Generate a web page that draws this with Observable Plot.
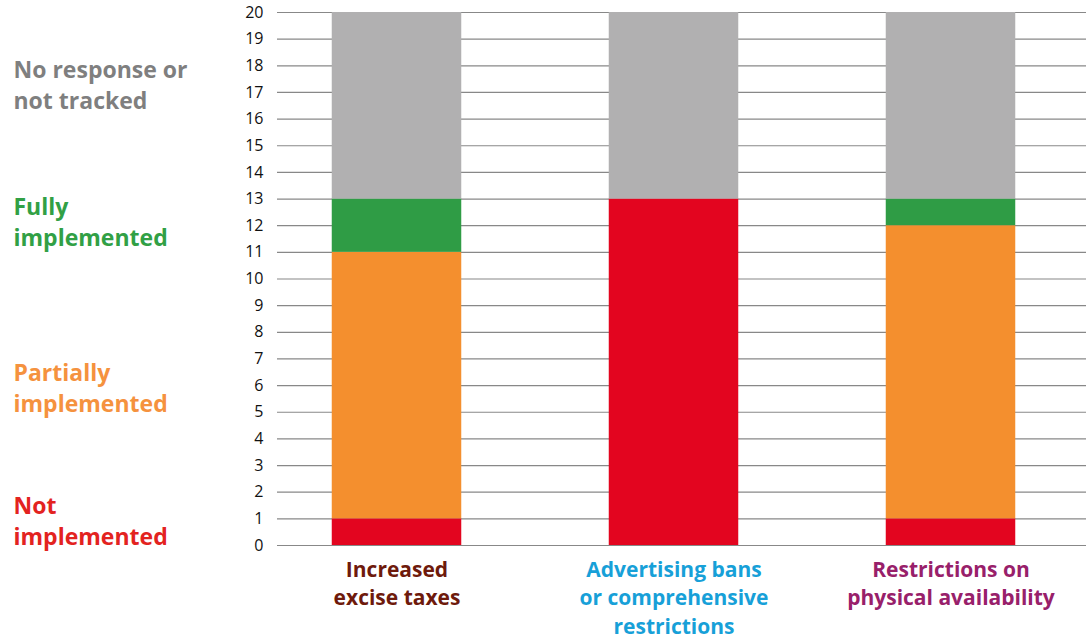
<!DOCTYPE html>
<html>
<head>
<meta charset="utf-8">
<script src="https://cdn.jsdelivr.net/npm/d3@7"></script>
<script src="https://cdn.jsdelivr.net/npm/@observablehq/plot@0.6"></script>
<style>
  html, body { margin: 0; padding: 0; background: #fff; }
  #chart svg { display: block; }
</style>
</head>
<body>
<div id="chart"></div>
<script>
const categories = ["Increased excise taxes", "Advertising bans or comprehensive restrictions", "Restrictions on physical availability"];
const categoryLabels = ["Increased\nexcise taxes", "Advertising bans\nor comprehensive\nrestrictions", "Restrictions on\nphysical availability"];
const categoryColors = ["#6e1a0c", "#17a0d8", "#98206a"];

const statuses = ["Not implemented", "Partially implemented", "Fully implemented", "No response or not tracked"];
const statusLabels = ["Not\nimplemented", "Partially\nimplemented", "Fully\nimplemented", "No response or\nnot tracked"];
const statusColors = ["#e3051f", "#f48f2e", "#2f9c45", "#b1b0b1"];
const statusTextColors = ["#e3231f", "#f5923e", "#31a045", "#7f7f7f"];
const statusLabelY = [0.98, 5.97, 12.2, 17.34];

const notImplemented = [1, 13, 1];
const partiallyImplemented = [10, 0, 11];
const fullyImplemented = [2, 0, 1];
const noResponse = [7, 7, 7];

const yTicks = d3.range(0, 21);

const seriesValues = [notImplemented, partiallyImplemented, fullyImplemented, noResponse];
const rows = [];
statuses.forEach((s, si) => {
  categories.forEach((c, ci) => {
    rows.push({category: c, status: s, value: seriesValues[si][ci]});
  });
});

const legendRows = statuses.map((s, i) => ({status: s, label: statusLabels[i], y: statusLabelY[i], color: statusTextColors[i]}));
const catRows = categories.map((c, i) => ({category: c, label: categoryLabels[i], color: categoryColors[i]}));

const chart = Plot.plot({
  width: 1086,
  height: 636,
  marginLeft: 277,
  marginRight: 0,
  marginTop: 12,
  marginBottom: 91,
  style: {fontFamily: "'Open Sans', sans-serif", background: "#fff"},
  x: {domain: categories, range: [257.5, 1090], padding: 0, axis: null},
  y: {domain: [0, 20], ticks: yTicks, tickSize: 0, tickPadding: 14, tickFormat: d => String(d), label: null, fontSize: 16},
  color: {domain: statuses, range: statusColors},
  marks: [
    Plot.ruleY(yTicks, {stroke: "#888888", strokeWidth: 1.2}),
    Plot.barY(rows, Plot.stackY({order: statuses}, {x: "category", y: "value", fill: "status", insetLeft: 73.75, insetRight: 73.75})),
    Plot.axisY({ticks: yTicks, tickSize: 0, tickPadding: 14, fontSize: 16, fill: "#111", label: null}),
    Plot.text(catRows, {x: "category", y: 0, text: "label", fill: "color", fontSize: 21, fontWeight: "bold", lineAnchor: "top", lineHeight: 1.36, dy: 11}),
    Plot.text(legendRows, {y: "y", text: "label", fill: "color", frameAnchor: "left", textAnchor: "start", dx: -264, fontSize: 23, fontWeight: "bold", lineHeight: 1.35})
  ]
});
document.getElementById("chart").appendChild(chart);
</script>
</body>
</html>
